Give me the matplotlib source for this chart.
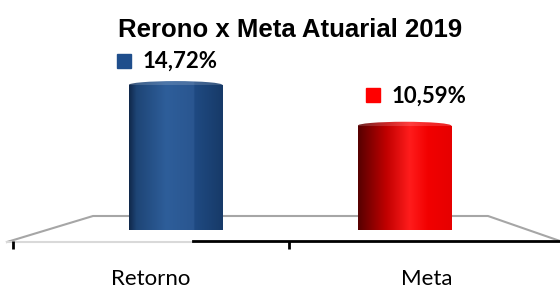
import numpy as np
import matplotlib.pyplot as plt
from matplotlib.colors import LinearSegmentedColormap
from matplotlib.patches import Ellipse, Rectangle
from matplotlib.transforms import offset_copy

categories = ['Retorno', 'Meta']
values = [14.72, 10.59]
value_labels = ['14,72%', '10,59%']
title = 'Rerono x Meta Atuarial 2019'

W, H = 560, 286
fig = plt.figure(figsize=(W / 100, H / 100), dpi=100)

# cylinder shading
blue_cmap = LinearSegmentedColormap.from_list('blue', [
    (0.0, '#10284a'), (0.08, '#1e4576'), (0.4, '#2e5e9a'),
    (0.69, '#2a5690'), (0.7, '#1f4a82'), (1.0, '#173a68')])
red_cmap = LinearSegmentedColormap.from_list('red', [
    (0.0, '#560000'), (0.3, '#c00000'), (0.55, '#ff1c1c'),
    (0.75, '#f20000'), (1.0, '#e60000')])
cmaps = [blue_cmap, red_cmap]
flat = ['#1f4e8c', '#ff0000']
label_offsets = [((-37, 17.6), (-24, 17.3)), ((-23, 22), (-9.5, 20.9))]

# floor of the 3d plot (pixel coords)
fl = fig.add_axes([0, 0, 1, 1])
fl.set_xlim(0, W)
fl.set_ylim(H, 0)
fl.axis('off')
fl.plot([7, 93, 488, 560], [242, 216, 216, 241], color='#a6a6a6', lw=1.5)
fl.plot([7, 193], [242, 242], color='#d9d9d9', lw=1.5)

# front category axis
fa = fig.add_axes([0, (H - 241) / H, 1, 0.01])
fa.set_xlim(-0.5 - 13 / 276, -0.5 + (W - 13) / 276)
fa.set_ylim(0, 1)
fa.patch.set_alpha(0)
for s in ['top', 'left', 'right']:
    fa.spines[s].set_visible(False)
fa.spines['bottom'].set_bounds(-0.5 + 180 / 276, 2)
fa.spines['bottom'].set_linewidth(2)
fa.set_yticks([])
fa.set_xticks(range(len(categories)))
fa.set_xticklabels(categories, fontsize=16, family='Lato')
fa.set_xticks([-0.5, 0.5], minor=True)
fa.tick_params(axis='x', which='major', length=0, pad=20)
fa.tick_params(axis='x', which='minor', length=6, width=2, direction='out')

# bars
ax = fig.add_axes([0, 56 / H, 1, 197 / H])
ax.axis('off')
x = np.arange(len(values))
bars = ax.bar(x, values, width=0.41, color='none', zorder=1)
eh = 0.8
grad = np.linspace(0, 1, 256).reshape(1, -1)
for i, b in enumerate(bars):
    x0, w, h = b.get_x(), b.get_width(), b.get_height()
    cx = x0 + w / 2
    body = Rectangle((x0, 0), w, h, transform=ax.transData)
    bottom = Ellipse((cx, 0), w, eh, transform=ax.transData)
    for clip in [body, bottom]:
        im = ax.imshow(grad, extent=(x0, x0 + w, -eh, h), aspect='auto',
                       cmap=cmaps[i], zorder=2)
        im.set_clip_path(clip)
    top = Ellipse((cx, h), w, eh, transform=ax.transData)
    im = ax.imshow(grad, extent=(x0, x0 + w, h - eh, h + eh), aspect='auto',
                   cmap=cmaps[i], zorder=3, alpha=0.85)
    im.set_clip_path(top)

    (sdx, sdy), (tdx, tdy) = label_offsets[i]
    ax.plot(cx, h, marker='s', ms=10, color=flat[i], ls='none',
            transform=offset_copy(ax.transData, fig=fig, x=sdx, y=sdy, units='points'))
    ax.text(cx, h, value_labels[i], fontsize=16, fontweight='bold', family='Lato',
            ha='left', va='center',
            transform=offset_copy(ax.transData, fig=fig, x=tdx, y=tdy, units='points'))

ax.set_xlim(-175.5 / 229, (W - 175.5) / 229)
ax.set_ylim(0, 20)

fig.text(290.5 / W, 1 - 30 / H, title, fontsize=18.5, fontweight='bold',
         family='Liberation Sans', ha='center', va='center')

fig.savefig('out.png', dpi=100)
